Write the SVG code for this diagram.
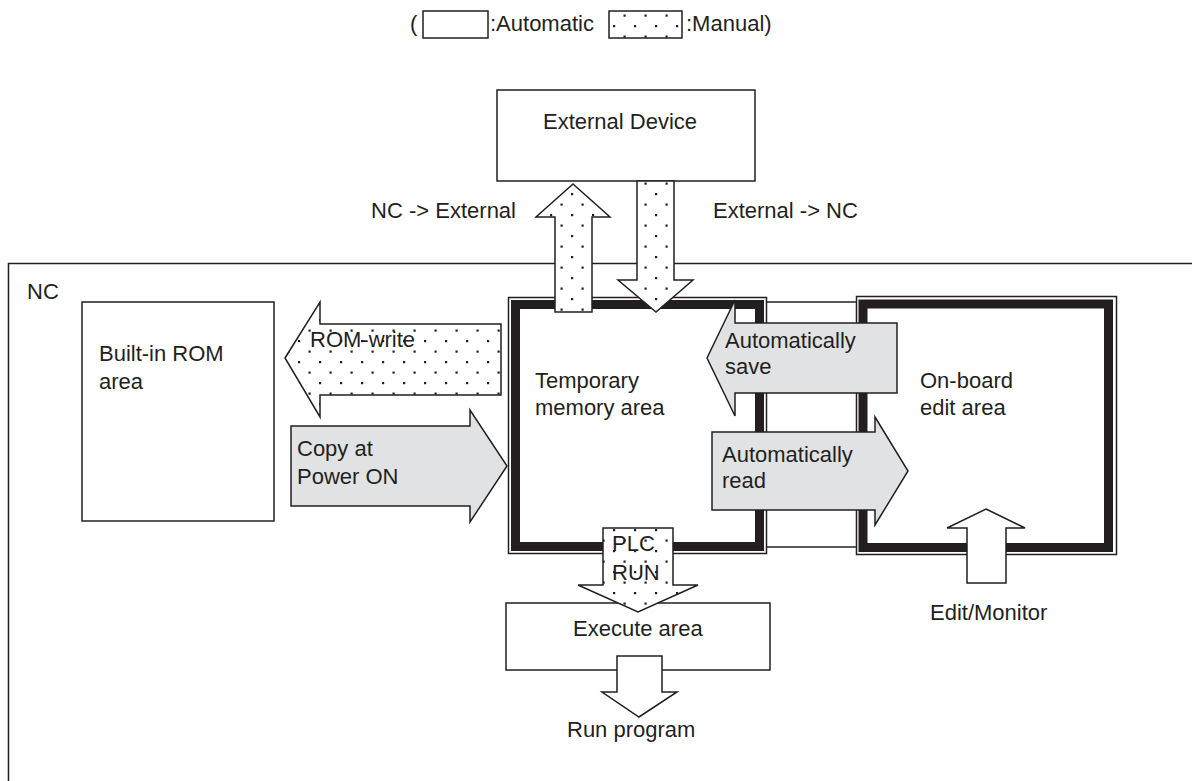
<svg xmlns="http://www.w3.org/2000/svg" width="1192" height="781" viewBox="0 0 1192 781">
<defs>
<pattern id="dots" patternUnits="userSpaceOnUse" width="21" height="21">
<rect width="21" height="21" fill="#ffffff"/>
<rect x="4" y="4" width="2.2" height="2.2" fill="#231f20"/>
<rect x="14.5" y="14.5" width="2.2" height="2.2" fill="#231f20"/>
</pattern>
<style>
text{font-family:"Liberation Sans",Arial,sans-serif;font-size:22px;fill:#231f20}
.box{fill:#ffffff;stroke:#231f20;stroke-width:1.5}
.thick{fill:none;stroke:#231f20;stroke-width:9}
.thin{fill:none;stroke:#231f20;stroke-width:1.5}
.man{fill:url(#dots);stroke:#231f20;stroke-width:1.5;stroke-linejoin:miter}
.auto{fill:#e1e2e4;stroke:#231f20;stroke-width:1.5}
.plain{fill:#ffffff;stroke:#231f20;stroke-width:1.5}
</style>
</defs>
<rect width="1192" height="781" fill="#ffffff"/>

<g id="legend">
<text x="410" y="31">(</text>
<rect class="box" x="423" y="11" width="65" height="27"/>
<text x="490" y="31">:Automatic</text>
<rect class="man" x="609" y="11" width="73" height="27"/>
<text x="686" y="31">:Manual)</text>
</g>

<g id="nc">
<path class="thin" d="M8.5 781 V263.5 H1192"/>
<text x="27" y="299">NC</text>
</g>

<g id="external-device">
<rect class="box" x="497" y="90" width="258" height="91"/>
<text x="543" y="129">External Device</text>
</g>

<g id="rom">
<rect class="box" x="82" y="302" width="192" height="219"/>
<text x="99" y="361">Built-in ROM</text>
<text x="99" y="389">area</text>
</g>

<g id="temporary">
<rect class="thin" x="508.5" y="297.5" width="258" height="256"/>
<rect class="thick" x="515.5" y="304.5" width="244" height="242" fill="#ffffff"/>
<text x="535" y="388">Temporary</text>
<text x="535" y="415">memory area</text>
</g>

<g id="onboard">
<rect class="thin" x="856.5" y="296.5" width="260" height="258"/>
<rect class="thick" x="863" y="304" width="245.5" height="243.5"/>
<text x="920" y="388">On-board</text>
<text x="920" y="415">edit area</text>
</g>

<g id="execute">
<rect class="box" x="506" y="603" width="264" height="67"/>
<text x="573" y="636">Execute area</text>
</g>

<g id="connectors">
<line class="thin" x1="767" y1="302" x2="856" y2="302"/>
<line class="thin" x1="767" y1="547" x2="856" y2="547"/>
<polygon class="man" points="573,184 610,217 592,217 592,312 555,312 555,217 536,217"/>
<polygon class="man" points="637,181 674,181 674,280 693,280 656,312 618,280 637,280"/>
<polygon class="man" points="285,358 320,302 320,324 501,324 501,395 320,395 320,417"/>
<polygon class="auto" points="707,358 735,300 735,323 897,323 897,393 735,393 735,416"/>
<polygon class="auto" points="712,432 875,432 875,417 908,471 875,525 875,510 712,510"/>
<polygon class="auto" points="291,426 470,426 470,410 507,466 470,522 470,506 291,506"/>
<polygon class="man" points="603,528 673,528 673,585 698,585 638,612 578,585 603,585"/>
<polygon class="plain" points="617,656 662,656 662,692 677,692 639,717 602,692 617,692"/>
<polygon class="plain" points="986,509 1025,528 1006,528 1006,583 967,583 967,528 947,528"/>
<text x="516" y="218" text-anchor="end">NC -&gt; External</text>
<text x="713" y="218">External -&gt; NC</text>
<text x="310" y="347">ROM-write</text>
<text x="725" y="348">Automatically</text>
<text x="725" y="374">save</text>
<text x="722" y="462">Automatically</text>
<text x="722" y="488">read</text>
<text x="297" y="456">Copy at</text>
<text x="297" y="484">Power ON</text>
<text x="612" y="551">PLC</text>
<text x="612" y="580">RUN</text>
<text x="567" y="737">Run program</text>
<text x="930" y="620">Edit/Monitor</text>
</g>
</svg>
